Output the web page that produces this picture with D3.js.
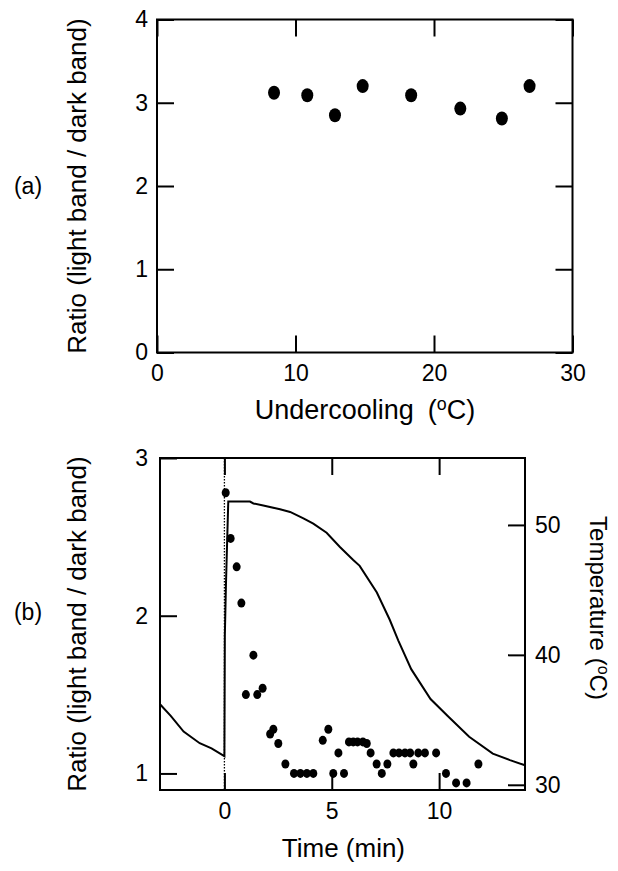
<!DOCTYPE html>
<html>
<head>
<meta charset="utf-8">
<script src="https://cdn.jsdelivr.net/npm/d3@7"></script>
<style>
	html, body { margin: 0; padding: 0; background: #fff; }
	svg { display: block; font-family: "Liberation Sans", Arial, sans-serif; }
</style>
</head>
<body>
<svg id="chart" width="618" height="871"></svg>
<script>
'use strict';

// panel (a): ratio vs undercooling
var undercooling = [8.45, 10.85, 12.85, 14.85, 18.35, 21.9, 24.9, 26.9];
var ratioA = [3.12, 3.09, 2.85, 3.20, 3.09, 2.93, 2.81, 3.20];
var ticksAx = [0, 10, 20, 30];
var ticksAy = [0, 1, 2, 3, 4];

// panel (b): ratio vs time (dots)
var timeB = [0.06, 0.29, 0.57, 0.79, 1.0, 1.35, 1.53, 1.78, 2.13, 2.28, 2.51, 2.84,
	3.24, 3.54, 3.84, 4.14, 4.58, 4.84, 5.07, 5.31, 5.57, 5.8, 6.0, 6.2, 6.45,
	6.63, 6.81, 7.09, 7.33, 7.59, 7.87, 8.13, 8.41, 8.65, 8.8, 9.03, 9.34, 9.86,
	10.32, 10.79, 11.28, 11.83];
var ratioB = [2.78, 2.49, 2.31, 2.08, 1.50, 1.75, 1.50, 1.54, 1.25, 1.28, 1.19, 1.06,
	1.0, 1.0, 1.0, 1.0, 1.21, 1.28, 1.0, 1.13, 1.0, 1.20, 1.20, 1.20, 1.20,
	1.19, 1.13, 1.06, 1.0, 1.06, 1.13, 1.13, 1.13, 1.13, 1.06, 1.13, 1.13, 1.13,
	1.0, 0.94, 0.94, 1.06];

// panel (b): temperature trace
var timeT = [-3, -2.5, -1.9, -1.15, -0.6, -0.1, 0, 0.02, 0.07, 0.13, 0.18, 0.7, 1.19,
	1.35, 1.81, 2.59, 3.06, 3.68, 4.14, 4.76, 5.38, 6.0, 6.3, 7.1, 7.7, 8.1, 8.7,
	9.6, 10.4, 11.4, 12.5, 13.3, 14];
var tempT = [36.2, 35.3, 34.1, 33.2, 32.8, 32.3, 32.2, 41.5, 45.3, 48.9, 51.8, 51.8, 51.8,
	51.65, 51.5, 51.2, 51.0, 50.5, 50.1, 49.4, 48.3, 47.3, 46.85, 44.8, 42.7, 41.1, 38.9,
	36.6, 35.3, 33.7, 32.4, 31.9, 31.5];
var ticksBx = [0, 5, 10];
var ticksBy = [1, 2, 3];
var ticksBt = [30, 40, 50];

(function() {

	var svg = d3.select('svg#chart');
	var tick = 17;
	var fmt = d3.format('d');

	var frame = function(g, w, h) {
		g.append('rect')
			.attr('x', 0)
			.attr('y', 0)
			.attr('width', w)
			.attr('height', h)
			.attr('fill', 'none')
			.attr('stroke', '#000')
			.attr('stroke-width', 2);
	};

	var styleAxis = function(sel) {
		sel.select('.domain').remove();
		sel.selectAll('line').attr('stroke', '#000').attr('stroke-width', 2);
		sel.selectAll('text')
			.attr('fill', '#000')
			.style('font-size', '23px');
	};

	var hideLabels = function(sel) {
		sel.selectAll('text').remove();
	};

	// label with a superscript "o" for degrees
	var supLabel = function(parent, before, gap, after) {
		var t = parent.append('text')
			.attr('text-anchor', 'middle')
			.attr('fill', '#000');
		t.append('tspan').text(before);
		t.append('tspan').text('(').attr('dx', gap);
		t.append('tspan').text('o')
			.attr('dy', '-0.5em')
			.style('font-size', '0.66em');
		t.append('tspan').text(after)
			.attr('dy', '0.33em');
		return t;
	};

	/* ---------- panel (a) ---------- */
	var a = { left: 157, top: 19.5, w: 415.5, h: 333 };
	var ga = svg.append('g').attr('transform', 'translate(' + a.left + ',' + a.top + ')');

	var xa = d3.scaleLinear().domain([0, 30]).range([0, a.w]);
	var ya = d3.scaleLinear().domain([0, 4]).range([a.h, 0]);

	ga.append('g')
		.attr('transform', 'translate(0,' + a.h + ')')
		.call(d3.axisBottom(xa).tickValues(ticksAx).tickFormat(fmt).tickSize(-tick).tickPadding(12))
		.call(styleAxis);
	ga.append('g')
		.call(d3.axisTop(xa).tickValues(ticksAx).tickSize(-tick))
		.call(styleAxis).call(hideLabels);
	ga.append('g')
		.call(d3.axisLeft(ya).tickValues(ticksAy).tickFormat(fmt).tickSize(-tick).tickPadding(9))
		.call(styleAxis);
	ga.append('g')
		.attr('transform', 'translate(' + a.w + ',0)')
		.call(d3.axisRight(ya).tickValues(ticksAy).tickSize(-tick))
		.call(styleAxis).call(hideLabels);
	frame(ga, a.w, a.h);

	ga.selectAll('ellipse.pt')
		.data(undercooling)
		.enter()
		.append('ellipse')
		.attr('class', 'pt')
		.attr('cx', function(d) {
			return xa(d);
		})
		.attr('cy', function(d, i) {
			return ya(ratioA[i]);
		})
		.attr('rx', 6)
		.attr('ry', 7)
		.attr('fill', '#000');

	ga.append('text')
		.attr('transform', 'translate(-71,' + (a.h / 2) + ') rotate(-90)')
		.attr('text-anchor', 'middle')
		.style('font-size', '26px')
		.text('Ratio (light band / dark band)');

	supLabel(ga, 'Undercooling', 14, 'C)')
		.attr('x', 208)
		.attr('y', 399)
		.style('font-size', '27px');

	svg.append('text')
		.attr('x', 28)
		.attr('y', 194)
		.attr('text-anchor', 'middle')
		.style('font-size', '23px')
		.text('(a)');

	/* ---------- panel (b) ---------- */
	var b = { left: 160, top: 458, w: 365, h: 332 };
	var gb = svg.append('g').attr('transform', 'translate(' + b.left + ',' + b.top + ')');

	var xb = d3.scaleLinear().domain([-3, 14]).range([0, b.w]);
	var yb = d3.scaleLinear().domain([0.895, 3]).range([b.h, 0]);
	var yt = d3.scaleLinear().domain([29.6, 55.15]).range([b.h, 0]);

	gb.append('g')
		.attr('transform', 'translate(0,' + b.h + ')')
		.call(d3.axisBottom(xb).tickValues(ticksBx).tickFormat(fmt).tickSize(-tick).tickPadding(13))
		.call(styleAxis);
	gb.append('g')
		.call(d3.axisTop(xb).tickValues(ticksBx).tickSize(-tick))
		.call(styleAxis).call(hideLabels);
	gb.append('g')
		.call(d3.axisLeft(yb).tickValues(ticksBy).tickFormat(fmt).tickSize(-tick).tickPadding(12))
		.call(styleAxis);
	gb.append('g')
		.attr('transform', 'translate(' + b.w + ',0)')
		.call(d3.axisRight(yt).tickValues(ticksBt).tickFormat(fmt).tickSize(-tick).tickPadding(10))
		.call(styleAxis);
	frame(gb, b.w, b.h);

	// dotted marker at t = 0
	gb.append('line')
		.attr('x1', xb(0))
		.attr('x2', xb(0))
		.attr('y1', 0)
		.attr('y2', b.h)
		.attr('stroke', '#000')
		.attr('stroke-width', 1.3)
		.attr('stroke-dasharray', '1.5,1.5');

	var temp = timeT.map(function(t, i) {
		return [t, tempT[i]];
	});
	var line = d3.line()
		.x(function(d) {
			return xb(d[0]);
		})
		.y(function(d) {
			return yt(d[1]);
		});
	gb.append('path')
		.datum(temp)
		.attr('d', line)
		.attr('fill', 'none')
		.attr('stroke', '#000')
		.attr('stroke-width', 2);

	gb.selectAll('ellipse.pt')
		.data(timeB)
		.enter()
		.append('ellipse')
		.attr('class', 'pt')
		.attr('cx', function(d) {
			return xb(d);
		})
		.attr('cy', function(d, i) {
			return yb(ratioB[i]);
		})
		.attr('rx', 4)
		.attr('ry', 4.5)
		.attr('fill', '#000');

	gb.append('text')
		.attr('transform', 'translate(-74,' + (b.h / 2) + ') rotate(-90)')
		.attr('text-anchor', 'middle')
		.style('font-size', '26px')
		.text('Ratio (light band / dark band)');

	gb.append('text')
		.attr('x', xb(0) + 119)
		.attr('y', 399)
		.attr('text-anchor', 'middle')
		.style('font-size', '26px')
		.text('Time (min)');

	supLabel(gb, 'Temperature', 7, 'C)')
		.attr('transform', 'translate(430,150) rotate(90)')
		.style('font-size', '24px');

	svg.append('text')
		.attr('x', 28)
		.attr('y', 620)
		.attr('text-anchor', 'middle')
		.style('font-size', '23px')
		.text('(b)');

})();
</script>
</body>
</html>
